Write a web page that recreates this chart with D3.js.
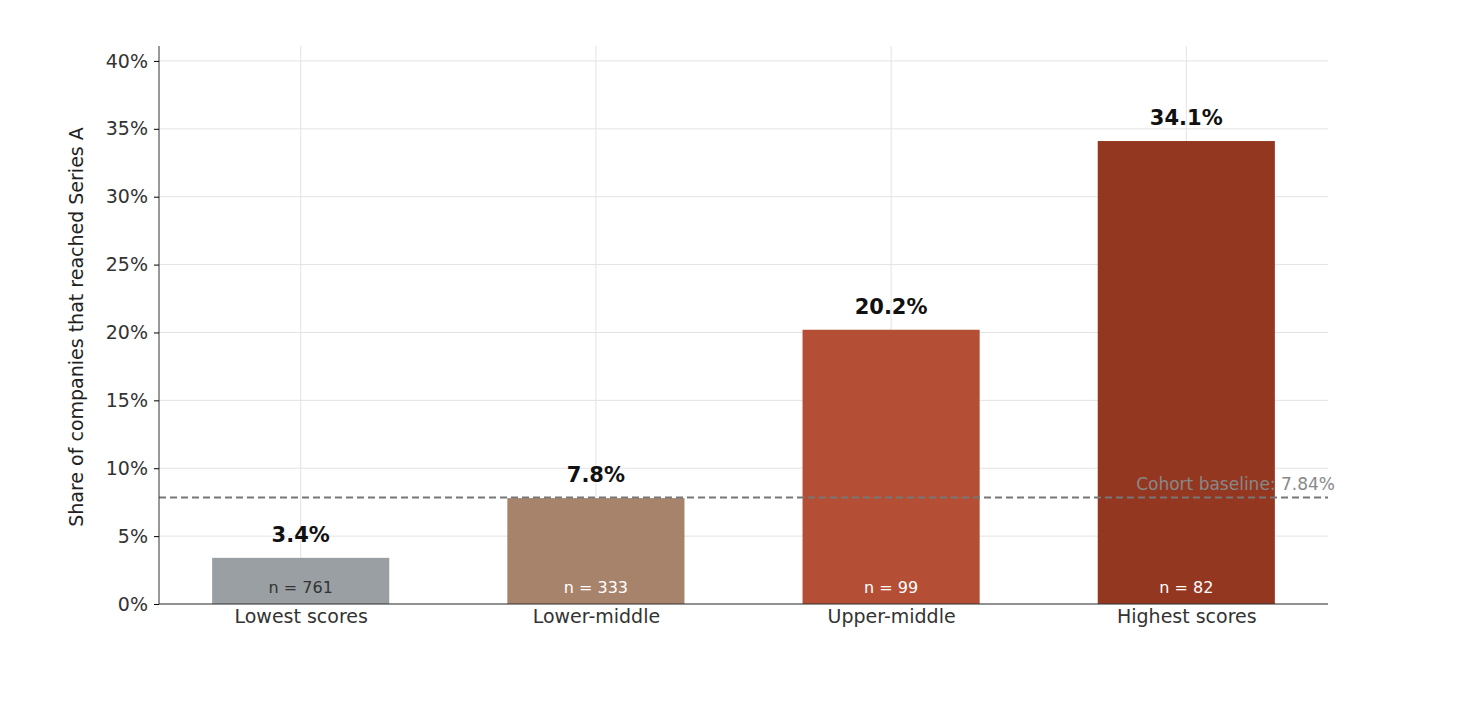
<!DOCTYPE html>
<html><head><meta charset="utf-8">
<script src="https://cdn.jsdelivr.net/npm/d3@7"></script>
<style>body{margin:0;background:#fff}</style></head>
<body><svg id="c" width="1484" height="714"></svg>
<script>
const categories=["Lowest scores","Lower-middle","Upper-middle","Highest scores"];
const values=[3.4,7.8,20.2,34.1];
const counts=[761,333,99,82];
const colors=["#9a9fa3","#a8836b","#b44f36","#943721"];
const yTicks=[0,5,10,15,20,25,30,35,40];
const baseline=7.84;
const font="DejaVu Sans, sans-serif";
const svg=d3.select("#c");
const L=159,R=1328,T=46,B=604;
const x=d3.scaleLinear().domain([-0.48,3.48]).range([L,R]);
const y=d3.scaleLinear().domain([0,41.1]).range([B,T]);
const bw=x(0.3)-x(-0.3);
const g=svg.append("g");
// grid
g.selectAll(".hg").data(yTicks).enter().append("line").attr("x1",L).attr("x2",R).attr("y1",d=>y(d)).attr("y2",d=>y(d)).attr("stroke","#e3e3e3");
g.selectAll(".vg").data(categories).enter().append("line").attr("x1",(d,i)=>x(i)).attr("x2",(d,i)=>x(i)).attr("y1",T).attr("y2",B).attr("stroke","#e3e3e3");
// bars
g.selectAll(".b").data(values).enter().append("rect").attr("x",(d,i)=>x(i)-bw/2).attr("width",bw).attr("y",d=>y(d)).attr("height",d=>B-y(d)).attr("fill",(d,i)=>colors[i]);
g.selectAll(".v").data(values).enter().append("text").attr("x",(d,i)=>x(i)).attr("y",d=>y(d)-16).attr("text-anchor","middle").attr("font-family",font).attr("font-size",21).attr("font-weight","bold").attr("fill","#111").text(d=>d.toFixed(1)+"%");
g.selectAll(".n").data(counts).enter().append("text").attr("x",(d,i)=>x(i)).attr("y",y(1.0)+3).attr("text-anchor","middle").attr("font-family",font).attr("font-size",16).attr("fill",(d,i)=>i==0?"#333":"#fff").text(d=>"n = "+d);
// baseline
g.append("line").attr("x1",L).attr("x2",R).attr("y1",y(baseline)).attr("y2",y(baseline)).attr("stroke","#777").attr("stroke-width",2).attr("stroke-dasharray","7,4");
g.append("text").attr("x",1335).attr("y",y(baseline)-8).attr("text-anchor","end").attr("font-family",font).attr("font-size",17).attr("fill","#888").text("Cohort baseline: "+baseline.toFixed(2)+"%");
// axes
const ya=svg.append("g").attr("transform",`translate(${L},0)`).call(d3.axisLeft(y).tickValues(yTicks).tickFormat(d=>d+"%").tickSize(5).tickPadding(6));
ya.select(".domain").attr("d",`M0,${T}V${B}`).attr("stroke","#333");
ya.selectAll("text").attr("font-family",font).attr("font-size",19).attr("fill","#333");
const xa=svg.append("g").attr("transform",`translate(0,${B})`).call(d3.axisBottom(x).tickValues([0,1,2,3]).tickFormat(i=>categories[i]).tickSize(0).tickPadding(6));
xa.select(".domain").attr("d",`M${L},0H${R}`).attr("stroke","#333");
xa.selectAll("text").attr("font-family",font).attr("font-size",19).attr("fill","#333");
svg.append("text").attr("transform",`translate(83,${(T+B)/2+2}) rotate(-90)`).attr("text-anchor","middle").attr("font-family",font).attr("font-size",19).attr("fill","#222").text("Share of companies that reached Series A");
</script></body></html>
